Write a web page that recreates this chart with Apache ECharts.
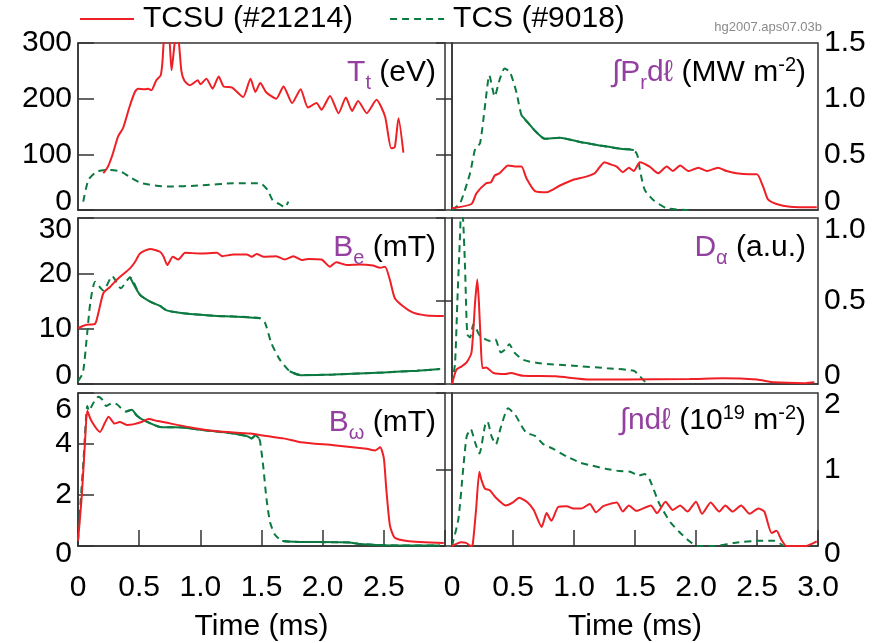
<!DOCTYPE html>
<html>
<head>
<meta charset="utf-8">
<script src="https://cdn.jsdelivr.net/npm/echarts@6/dist/echarts.min.js"></script>
<style>
html, body { margin: 0; padding: 0; background: #fff; }
#chart { width: 886px; height: 643px; }
</style>
</head>
<body>
<div id="chart"></div>
<script>
const nameU = 'TCSU (#21214)';
const nameS = 'TCS (#9018)';

// T_t (eV)
const teTimeU = [0.207,0.245,0.286,0.327,0.368,0.422,0.465,0.49,0.545,0.572,0.6,0.64,0.676,0.69,0.71,0.74,0.765,0.79,0.805,0.825,0.845,0.87,0.914,0.98,1.0,1.05,1.1,1.15,1.19,1.26,1.35,1.41,1.45,1.49,1.54,1.62,1.68,1.75,1.82,1.88,1.95,1.99,2.06,2.13,2.19,2.24,2.29,2.36,2.44,2.51,2.56,2.59,2.62,2.66];
const teValU = [66,78,102,132,147,186,212,218,217,218,215,233,242,265,320,320,251,300,320,300,250,232,224,233,226,236,218,240,222,220,203,236,212,228,211,200,222,192,217,184,192,180,205,174,202,178,196,174,198,168,111,113,165,103];
const teTimeS = [0.043,0.085,0.153,0.24,0.35,0.44,0.52,0.73,1.0,1.27,1.49,1.55,1.59,1.65,1.69,1.72];
const teValS = [15,54,69,72,69,57,48,42,44,48,48,36,18,10,5,15];

// Int P_r dl (MW m-2)
const prTimeU = [0,0.16,0.2,0.28,0.32,0.35,0.39,0.46,0.53,0.57,0.61,0.68,0.776,0.885,0.99,1.1,1.17,1.25,1.3,1.35,1.4,1.45,1.49,1.54,1.62,1.69,1.76,1.81,1.87,1.94,2.02,2.09,2.18,2.25,2.33,2.44,2.5,2.55,2.59,2.66,2.77,2.99];
const prValU = [0.015,0.054,0.15,0.24,0.25,0.31,0.33,0.40,0.39,0.39,0.285,0.17,0.16,0.22,0.27,0.30,0.33,0.43,0.41,0.39,0.34,0.38,0.35,0.43,0.39,0.33,0.39,0.35,0.40,0.35,0.38,0.35,0.38,0.35,0.33,0.32,0.32,0.21,0.096,0.054,0.03,0.024];
const prTimeS = [0,0.066,0.148,0.19,0.23,0.27,0.306,0.35,0.39,0.43,0.475,0.53,0.57,0.626,0.69,0.76,0.885,1.05,1.21,1.38,1.49,1.52,1.54,1.58,1.65,1.76,1.94];
const prValS = [0,0.06,0.33,0.55,0.6,0.93,1.21,1.02,1.17,1.27,1.24,1.05,0.85,0.78,0.70,0.64,0.65,0.61,0.58,0.55,0.54,0.49,0.36,0.18,0.09,0.015,0];

// B_e (mT)
const beTimeU = [0,0.07,0.14,0.166,0.207,0.26,0.33,0.425,0.467,0.507,0.589,0.67,0.7,0.73,0.775,0.82,0.875,1.0,1.135,1.18,1.27,1.38,1.42,1.46,1.52,1.62,1.69,1.76,1.83,1.88,1.99,2.06,2.11,2.2,2.3,2.41,2.47,2.51,2.55,2.59,2.66,2.74,2.85,2.99];
const beValU = [10.1,10.7,10.9,12.8,16.4,17.5,19.1,20.9,22.1,23.6,24.4,23.9,23.0,21.5,23.0,22.5,23.7,23.6,23.7,23.1,23.4,23.4,23.0,23.5,23.0,23.1,22.5,23.1,22.4,22.6,22.5,21.2,22.0,21.5,21.6,21.4,21.0,21.2,18.8,15.5,14.0,12.9,12.4,12.3];
const beTimeS = [0,0.04,0.07,0.1,0.14,0.207,0.28,0.35,0.425,0.507,0.589,0.67,0.725,0.86,1.135,1.27,1.49,1.53,1.58,1.65,1.73,1.82,2.09,2.5,2.77,2.96];
const beValS = [0.5,2.0,8.0,14.6,18.5,16.9,19.5,17.3,19.3,16.1,14.9,14.1,13.3,12.8,12.3,12.2,11.9,11.0,7.4,4.4,2.3,1.6,1.7,2.1,2.4,2.7];

// D_alpha (a.u.)
const daTimeU = [0,0.036,0.077,0.12,0.16,0.19,0.207,0.22,0.235,0.25,0.28,0.34,0.44,0.48,0.58,0.85,1.13,1.4,1.95,2.22,2.5,2.64,2.9,2.97];
const daValU = [0,0.086,0.105,0.13,0.19,0.5,0.63,0.5,0.26,0.096,0.1,0.066,0.06,0.066,0.05,0.046,0.027,0.027,0.03,0.035,0.027,0.01,0.005,0.01];
const daTimeS = [0,0.025,0.044,0.066,0.075,0.09,0.107,0.125,0.148,0.175,0.2,0.23,0.31,0.355,0.4,0.44,0.47,0.51,0.585,0.72,0.995,1.27,1.49,1.54,1.6];
const daValS = [0,0.125,0.5,0.9,1.05,1.0,0.70,0.30,0.28,0.36,0.33,0.29,0.26,0.27,0.19,0.21,0.24,0.19,0.145,0.125,0.11,0.095,0.08,0.046,0];

// B_omega (mT)
const bwTimeU = [0,0.03,0.057,0.076,0.11,0.18,0.22,0.25,0.3,0.34,0.4,0.45,0.52,0.577,0.65,0.73,0.81,0.945,1.135,1.41,1.54,1.68,1.82,2.09,2.36,2.43,2.47,2.5,2.52,2.55,2.59,2.69,2.99];
const bwValU = [0.2,1.9,4.05,5.3,4.9,4.47,4.83,5.07,4.8,4.86,4.75,4.77,4.86,4.98,4.9,4.83,4.75,4.63,4.5,4.41,4.31,4.22,4.07,3.95,3.81,3.75,3.87,3.45,2.24,0.8,0.32,0.2,0.12];
const bwTimeS = [0,0.02,0.046,0.076,0.09,0.125,0.166,0.2,0.23,0.28,0.32,0.39,0.44,0.48,0.53,0.67,0.86,1.0,1.27,1.38,1.42,1.45,1.48,1.49,1.515,1.54,1.57,1.61,1.67,1.82,2.22,2.3,2.63,2.96];
const bwValS = [0.2,1.65,3.45,5.49,5.3,5.61,5.85,5.73,5.49,5.61,5.55,5.27,5.34,5.12,4.95,4.67,4.65,4.56,4.41,4.31,4.22,4.34,4.22,4.05,3.09,1.88,0.93,0.44,0.2,0.16,0.14,0.08,0.02,0.02];

// Int n dl (1e19 m-2)
const ndTimeU = [0,0.074,0.115,0.156,0.17,0.197,0.224,0.24,0.27,0.31,0.36,0.44,0.5,0.55,0.62,0.67,0.735,0.775,0.815,0.87,0.94,0.995,1.06,1.13,1.18,1.24,1.35,1.4,1.45,1.51,1.63,1.68,1.75,1.81,1.87,1.93,2.0,2.05,2.12,2.19,2.24,2.3,2.37,2.44,2.51,2.56,2.62,2.66,2.7,2.74,2.8,2.9,2.99];
const ndValU = [0,0.05,0.04,0,0.02,0.47,0.97,0.87,0.75,0.73,0.63,0.53,0.57,0.63,0.57,0.47,0.25,0.43,0.33,0.51,0.52,0.49,0.49,0.55,0.44,0.52,0.57,0.45,0.53,0.46,0.53,0.43,0.58,0.47,0.53,0.45,0.58,0.42,0.57,0.45,0.53,0.45,0.53,0.42,0.49,0.45,0.17,0.2,0.08,0,0,0,0.06];
const ndTimeS = [0,0.052,0.093,0.12,0.153,0.19,0.225,0.27,0.29,0.325,0.36,0.4,0.46,0.52,0.57,0.61,0.68,0.75,0.83,0.94,1.05,1.15,1.26,1.37,1.46,1.53,1.58,1.62,1.7,1.79,1.86,1.94,2.01,2.15,2.31,2.53,2.64,2.72];
const ndValS = [0,0.35,1.03,1.43,1.53,1.35,1.21,1.57,1.63,1.43,1.33,1.55,1.80,1.71,1.57,1.48,1.44,1.33,1.27,1.17,1.09,1.05,1.01,0.98,0.97,0.92,0.94,0.87,0.55,0.31,0.19,0.07,0,0,0.04,0.07,0.07,0];

const RED = '#ef1f26';
const GREEN = '#0c7a40';
const PURPLE = '#9340a0';
const AXIS = '#333';
const FONT = '"Liberation Sans", Arial, sans-serif';

const chart = echarts.init(document.getElementById('chart'));

// one entry per panel: box = [left, top, width, height] in px
// solid = time spans where the dashed TCS trace prints as a continuous line
const panels = [
    { box: [78, 43, 367, 167], side: 'left', max: 300, step: 100, lo: 'lo', hi: 'n', fmt: (v) => String(v),
      title: '{p|T}{sub|t}{k| (eV)}', u: [teTimeU, teValU], s: [teTimeS, teValS], solid: [] },
    { box: [452, 43, 366, 167], side: 'right', max: 1.5, step: 0.5, lo: 'lo', hi: 'n', fmt: (v) => (v === 0 ? '0' : v.toFixed(1)),
      title: '{p|\u222BP}{sub|r}{p|d\u2113}{k| (MW m}{sup|-2}{k|)}', u: [prTimeU, prValU], s: [prTimeS, prValS], solid: [[0.57, 1.49]] },
    { box: [78, 218, 367, 166], side: 'left', max: 30, step: 10, lo: 'lo', hi: 'hi', fmt: (v) => String(v),
      title: '{p|B}{sub|e}{k| (mT)}', u: [beTimeU, beValU], s: [beTimeS, beValS], solid: [[0.425, 1.49], [1.73, 3]] },
    { box: [452, 218, 366, 166], side: 'right', max: 1.0, step: 0.5, lo: 'lo', hi: 'hi', fmt: (v) => (v === 0 ? '0' : v.toFixed(1)),
      title: '{p|D}{sub|\u03B1}{k| (a.u.)}', u: [daTimeU, daValU], s: [daTimeS, daValS], solid: [] },
    { box: [78, 393, 367, 166], side: 'left', max: 6, step: 2, lo: 'lob', hi: 'hib', fmt: (v) => String(v), bottom: true,
      title: '{p|B}{sub|\u03C9}{k| (mT)}', u: [bwTimeU, bwValU], s: [bwTimeS, bwValS], solid: [[0.39, 1.48], [1.67, 3]] },
    { box: [452, 393, 366, 166], side: 'right', max: 2, step: 1, lo: 'lob', hi: 'hi', fmt: (v) => String(v), bottom: true,
      title: '{p|\u222Bnd\u2113}{k| (10}{sup|19}{k| m}{sup|-2}{k|)}', u: [ndTimeU, ndValU], s: [ndTimeS, ndValS], solid: [] }
];

const zip = (ts, vs) => ts.map((t, i) => [t, vs[i]]);

const titleRich = {
    p: { color: PURPLE, fontSize: 30, fontWeight: 'normal', fontFamily: FONT },
    sub: { color: PURPLE, fontSize: 20, fontWeight: 'normal', fontFamily: FONT, padding: [20, 0, 0, 0] },
    k: { color: '#000', fontSize: 30, fontWeight: 'normal', fontFamily: FONT },
    sup: { color: '#000', fontSize: 20, fontWeight: 'normal', fontFamily: FONT, padding: [0, 0, 16, 0] }
};

// end labels of the y axes are pushed inside the panel, like in the original
// (on the bottom row the library already lifts the "0" above the x ticks)
const tickText = { fontSize: 30, color: '#000', fontFamily: FONT, lineHeight: 32 };
const yLabelRich = {
    lo: Object.assign({}, tickText, { padding: [0, 0, 16, 0] }),
    lob: Object.assign({}, tickText, { padding: [16, 0, 0, 0] }),
    hi: Object.assign({}, tickText, { padding: [24, 0, 0, 0] }),
    hib: Object.assign({}, tickText, { padding: [34, 0, 0, 0] }),
    n: tickText
};

const grids = [], xAxes = [], yAxes = [], series = [], titles = [];

panels.forEach((p, i) => {
    const [l, t, w, h] = p.box;
    const isLeftCol = p.side === 'left';
    grids.push({
        left: l, top: t, width: w, height: h,
        show: true, borderColor: AXIS, borderWidth: 1.5, backgroundColor: 'transparent'
    });
    xAxes.push({
        type: 'value', gridIndex: i, min: 0, max: 3, interval: 0.5,
        axisLine: { show: true, lineStyle: { color: AXIS, width: 1.5 } },
        splitLine: { show: false },
        axisTick: { show: !!p.bottom, inside: true, length: 16, lineStyle: { color: AXIS, width: 1.5 } },
        axisLabel: {
            show: !!p.bottom, fontSize: 30, color: '#000', fontFamily: FONT, margin: 27,
            showMaxLabel: true,
            formatter: (v) => {
                if (v === 0) return '0';
                if (isLeftCol && v === 3) return '';
                return v.toFixed(1);
            }
        },
        name: p.bottom ? 'Time (ms)' : '',
        nameLocation: 'middle', nameGap: 66,
        nameTextStyle: { fontSize: 30, color: '#000', fontFamily: FONT }
    });
    yAxes.push({
        type: 'value', gridIndex: i, position: p.side, min: 0, max: p.max, interval: p.step,
        axisLine: { show: true, lineStyle: { color: AXIS, width: 1.5 } },
        splitLine: { show: false },
        axisTick: { show: true, inside: true, length: 16, lineStyle: { color: AXIS, width: 1.5 } },
        axisLabel: {
            fontSize: 30, color: '#000', fontFamily: FONT, margin: 6,
            rich: yLabelRich,
            formatter: (v) => {
                const s = p.fmt(v);
                if (v === 0) return '{' + p.lo + '|' + s + '}';
                if (v === p.max) return '{' + p.hi + '|' + s + '}';
                return '{n|' + s + '}';
            }
        }
    });
    const greenData = zip(p.s[0], p.s[1]);
    series.push({
        name: nameS, type: 'line', xAxisIndex: i, yAxisIndex: i,
        data: greenData, symbol: 'none', smooth: 0.2,
        lineStyle: { color: GREEN, width: 2, type: [7, 5] }, itemStyle: { color: GREEN }
    });
    p.solid.forEach(([a, b]) => {
        series.push({
            name: nameS, type: 'line', xAxisIndex: i, yAxisIndex: i,
            data: greenData.filter((d) => d[0] >= a && d[0] <= b), symbol: 'none', smooth: 0.2,
            lineStyle: { color: GREEN, width: 2 }, itemStyle: { color: GREEN }
        });
    });
    series.push({
        name: nameU, type: 'line', xAxisIndex: i, yAxisIndex: i,
        data: zip(p.u[0], p.u[1]), symbol: 'none', smooth: 0.2,
        lineStyle: { color: RED, width: 2 }, itemStyle: { color: RED }
    });
    titles.push({
        text: p.title, right: isLeftCol ? 886 - 436 : 886 - 806, top: t + 10, padding: 0,
        textStyle: { fontWeight: 'normal', rich: titleRich }
    });
});

const option = {
    animation: false,
    backgroundColor: '#fff',
    title: titles,
    legend: {
        left: 79, top: 4, padding: 0, itemGap: 36,
        itemWidth: 54, itemHeight: 14,
        itemStyle: { opacity: 0 },
        textStyle: { fontSize: 30, color: '#000', fontFamily: FONT, padding: [0, 0, 0, 4] },
        data: [nameU, nameS]
    },
    graphic: [{
        type: 'text', right: 64, top: 21,
        style: { text: 'hg2007.aps07.03b', fontSize: 13, fill: '#8a8a8a', fontFamily: FONT }
    }],
    grid: grids,
    xAxis: xAxes,
    yAxis: yAxes,
    series: series
};

chart.setOption(option);
window.addEventListener('resize', () => chart.resize());
</script>
</body>
</html>
